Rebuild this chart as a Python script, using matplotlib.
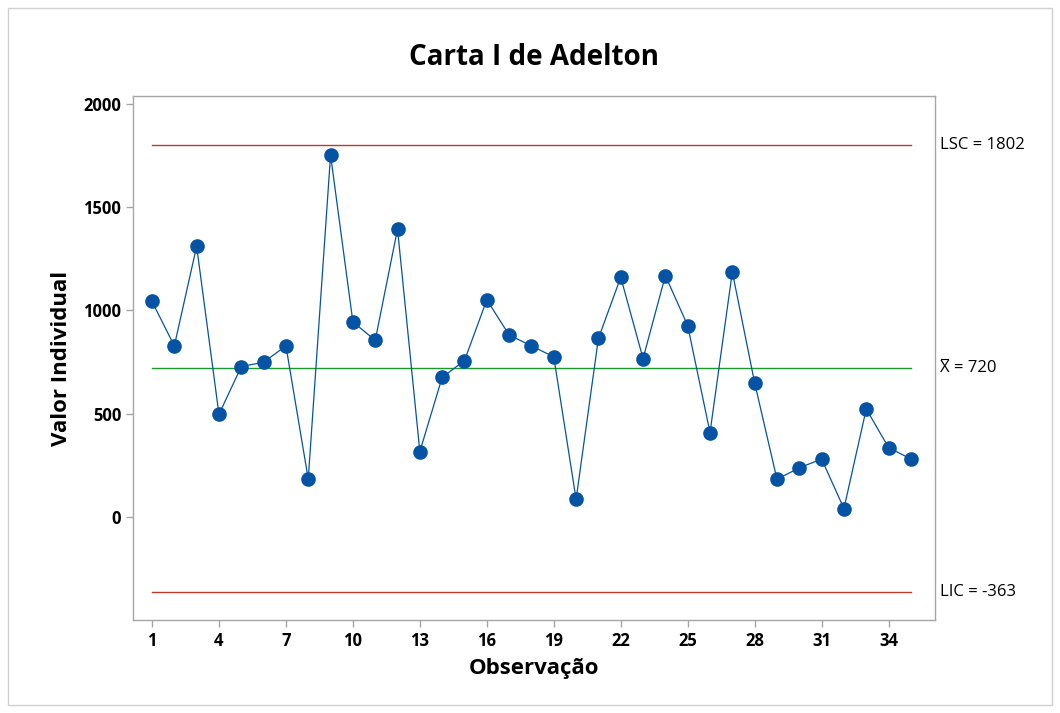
"""I chart (Carta I) for Adelton observations."""

import matplotlib
matplotlib.use("Agg")
import matplotlib.pyplot as plt
from matplotlib.patches import Rectangle
from matplotlib.transforms import offset_copy

plt.rcParams["font.family"] = ["Open Sans", "DejaVu Sans"]

observations = list(range(1, 36))
values = [1043, 828, 1310, 497, 728, 749, 828, 184, 1751, 944,
          855, 1393, 317, 676, 757, 1051, 881, 828, 775, 86,
          864, 1160, 767, 1168, 926, 409, 1186, 649, 183, 238,
          281, 41, 523, 336, 281]
center = 720
ucl = 1802
lcl = -363
x_ticks = list(range(1, 36, 3))
y_ticks = [0, 500, 1000, 1500, 2000]

blue = "#0453a5"
red = "#c0392b"
green = "#1a9a2a"
gray = "#a6a6a6"

fig = plt.figure(figsize=(10.6, 7.13), dpi=100)
ax = fig.add_axes([0.1255, 0.1304, 0.757, 0.735])

# control limits and center line
first, last = observations[0], observations[-1]
ax.plot([first, last], [ucl, ucl], color=red, lw=1.0)
ax.plot([first, last], [lcl, lcl], color=red, lw=1.0)
ax.plot([first, last], [center, center], color=green, lw=1.0)

ax.plot(observations, values, color=blue, lw=0.9, marker="o",
        markersize=9.5, markerfacecolor=blue, markeredgecolor=blue)

ax.set_xlim(0.15, 36.1)
ax.set_ylim(-498, 2037)
ax.set_xticks(x_ticks)
ax.set_yticks(y_ticks)

for s in ax.spines.values():
    s.set_color(gray)
    s.set_linewidth(1.0)
ax.tick_params(colors=gray, labelcolor="black", length=5, width=1.0,
               labelsize=12)
for lab in ax.get_xticklabels() + ax.get_yticklabels():
    lab.set_fontweight("bold")

ax.set_xlabel("Observação", fontsize=16, fontweight="bold", labelpad=6)
ax.set_ylabel("Valor Individual", fontsize=16, fontweight="bold", labelpad=8)
ax.set_title("Carta I de Adelton", fontsize=20, fontweight="bold", pad=22)

# labels to the right of the limit lines
tx = ax.get_xlim()[1] + 0.2
ax.text(tx, ucl, f"LSC = {ucl}", fontsize=12, va="center", ha="left", clip_on=False)
ax.text(tx, center, f"X = {center}", fontsize=12, va="center", ha="left", clip_on=False)
ax.text(tx, lcl, f"LIC = {lcl}", fontsize=12, va="center", ha="left", clip_on=False)

# overbar on the X of the center-line label
bar_tr = offset_copy(ax.transData, fig=fig, x=0, y=6.3, units="points")
ax.plot([tx + 0.05, tx + 0.38], [center, center], color="black", lw=0.8,
        transform=bar_tr, clip_on=False)

# thin frame around the whole figure
fig.patches.append(Rectangle((0.008, 0.011), 0.984, 0.978, transform=fig.transFigure,
                             fill=False, edgecolor="#d0d0d0", lw=1.0))

fig.savefig("out.png", dpi=100)
